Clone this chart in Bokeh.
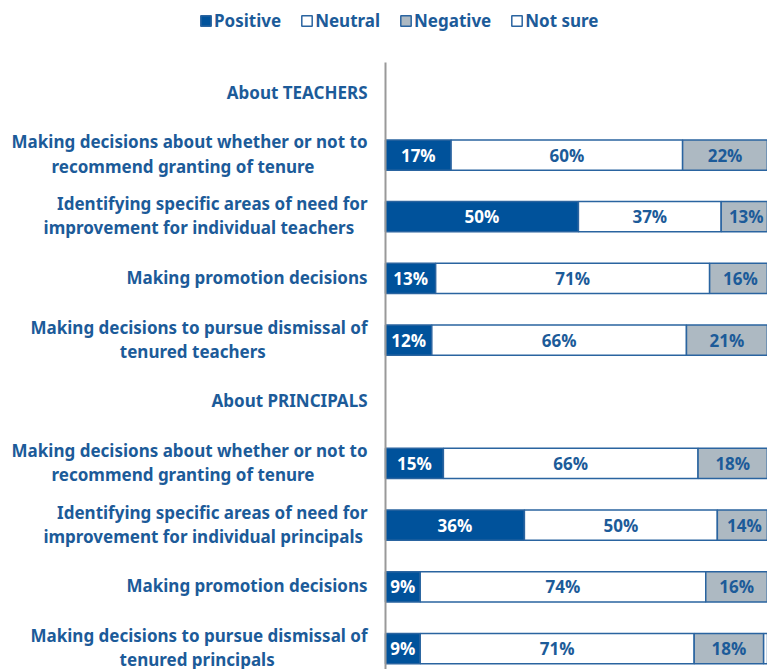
from bokeh.plotting import figure
from bokeh.models import ColumnDataSource, Range1d, Legend, LegendItem, LabelSet
from bokeh.core.properties import value
from bokeh.embed import file_html
from bokeh.resources import INLINE
import numpy as np

categories = [
    "About TEACHERS",
    "Making decisions about whether or not to\nrecommend granting of tenure",
    "Identifying specific areas of need for\nimprovement for individual teachers",
    "Making promotion decisions",
    "Making decisions to pursue dismissal of\ntenured teachers",
    "About PRINCIPALS",
    "Making decisions about whether or not to\nrecommend granting of tenure",
    "Identifying specific areas of need for\nimprovement for individual principals",
    "Making promotion decisions",
    "Making decisions to pursue dismissal of\ntenured principals",
]
positive = [None, 17, 50, 13, 12, None, 15, 36, 9, 9]
neutral = [None, 60, 37, 71, 66, None, 66, 50, 74, 71]
negative = [None, 22, 13, 16, 21, None, 18, 14, 16, 18]
not_sure = [None, 1, 0, 0, 1, None, 1, 0, 1, 2]
series = ["Positive", "Neutral", "Negative", "Not sure"]

BLUE = "#00529b"
TEXT = "#1c5b99"
EDGE = "#2a64a0"
GRAY = "#adb9c2"
AXIS = "#999999"
colors = [BLUE, "#ffffff", GRAY, "#ffffff"]

W, H = 767, 669
PLOT_LEFT_PX = 385          # where the bars start
PLOT_TOP_PX = 62            # where the category area starts
X_END = 99                  # percent shown at the right edge
Y_BOTTOM = 9.34             # category units visible at the bottom
Y_TOP = -0.5

px_per_x = (W - PLOT_LEFT_PX) / X_END
x_start = -PLOT_LEFT_PX / px_per_x
px_per_y = (H - PLOT_TOP_PX) / (Y_BOTTOM - Y_TOP)
y_start_top = Y_TOP - PLOT_TOP_PX / px_per_y


def center_lines(label):
    """Pad shorter lines with no-break spaces so the lines look centred."""
    lines = label.split("\n")
    longest = max(len(l) for l in lines)
    return "\n".join(l + "\u00a0" * (longest - len(l)) for l in lines)


rows = [i for i, v in enumerate(positive) if v is not None]
data = dict(
    y=rows,
    pos=[positive[i] for i in rows],
    neu=[neutral[i] for i in rows],
    neg=[negative[i] for i in rows],
    ns=[not_sure[i] for i in rows],
)
source = ColumnDataSource(data)

p = figure(width=W, height=H, output_backend="svg", toolbar_location=None,
           x_range=Range1d(x_start, X_END), y_range=Range1d(Y_BOTTOM, y_start_top),
           min_border_left=0, min_border_right=0, min_border_top=0, min_border_bottom=0)
p.axis.visible = False
p.grid.visible = False
p.outline_line_color = None

rends = p.hbar_stack(["pos", "neu", "neg", "ns"], y="y", height=0.49, source=source,
                     fill_color=colors, line_color=EDGE, line_width=1.5)

# vertical axis line
p.segment(x0=0, y0=Y_TOP, x1=0, y1=Y_BOTTOM, line_color=AXIS, line_width=2)

# category labels
cat_src = ColumnDataSource(dict(
    x=[-18 / px_per_x] * len(categories),
    y=list(range(len(categories))),
    t=[center_lines(c) for c in categories],
))
p.text(x="x", y="y", text="t", source=cat_src, text_align="right", text_baseline="middle",
       text_font=value("Noto Sans"), text_font_style="bold", text_font_size="17px",
       text_color=TEXT, text_line_height=1.05, y_offset=-1)

# segment labels
keys = ["pos", "neu", "neg", "ns"]
vals = np.array([data[k] for k in keys], dtype=float)
cum = np.cumsum(vals, axis=0)
for j, k in enumerate(keys[:3]):
    mids = cum[j] - vals[j] / 2.0
    lsrc = ColumnDataSource(dict(x=mids, y=rows, t=[f"{int(v)}%" for v in vals[j]]))
    p.add_layout(LabelSet(x="x", y="y", text="t", source=lsrc,
                          text_align="center", text_baseline="middle",
                          text_font=value("Open Sans"), text_font_style="bold",
                          text_font_size="17px",
                          text_color="#ffffff" if j == 0 else TEXT))

legend = Legend(items=[LegendItem(label=s, renderers=[r]) for s, r in zip(series, rends)],
                orientation="horizontal", location=(199, H - 32),
                glyph_width=13, glyph_height=13, label_standoff=2, spacing=19,
                padding=0, margin=0, border_line_color=None, background_fill_alpha=0,
                label_text_font="Noto Sans", label_text_font_style="bold",
                label_text_font_size="17px", label_text_color=TEXT)
p.add_layout(legend, "center")

open("out.html", "w").write(file_html(p, INLINE))
